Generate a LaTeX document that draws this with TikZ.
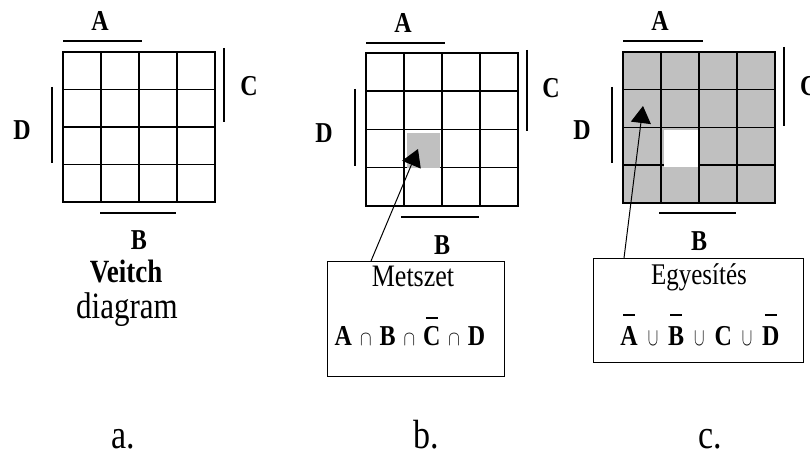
\documentclass[tikz,border=0pt]{standalone}
\usepackage{fontspec}
\setmainfont{Liberation Serif}
\usepackage{graphicx}
\usetikzlibrary{arrows.meta}
\definecolor{cellgray}{HTML}{C0C0C0}
\newcommand\T[1]{\scalebox{1}[1.2]{#1}}
\newcommand\ovb[2]{\ooalign{\hfil\raisebox{#1}{\rule{12pt}{1pt}}\hfil\cr\textbf{#2}}}
\newcommand\capsym{{\fontsize{16}{16}\selectfont$\cap$}}
\newcommand\cupsym{\scalebox{0.75}[1]{\fontsize{20}{20}\selectfont$\cup$}}
\newcommand\kgrid[4]{% x0, y0, w, h
  \draw[gridline] (#1,#2) rectangle ++(#3,#4);
  \foreach \i in {1,2,3}{
    \draw[gridline] ({#1+#3*\i/4},#2) -- ++(0,#4);
    \draw[gridline] (#1,{#2+#4*\i/4}) -- ++(#3,0);
  }}
\tikzset{
  gridline/.style={line width=1.5pt},
  varbar/.style={line width=1.4pt},
  varlab/.style={font=\bfseries\fontsize{24}{24}\selectfont, inner sep=0pt},
  capbox/.style={draw, line width=1.1pt, inner sep=0pt, anchor=north west},
  ptr/.style={line width=1pt, -{Triangle[length=17pt,width=20pt]}},
  bigtxt/.style={font=\fontsize{34}{34}\selectfont, inner sep=0pt, anchor=base},
  boxtxt/.style={font=\fontsize{26}{26}\selectfont, inner sep=0pt, anchor=base},
  formula/.style={inner sep=0pt, anchor=base, font=\bfseries\fontsize{24}{24}\selectfont},
}
\begin{document}
\begin{tikzpicture}[x=1pt,y=-1pt]
\useasboundingbox (0,0) rectangle (810,462);
% ---------- a ----------
\kgrid{63}{52}{152}{150}
\draw[varbar] (63,41) -- (142,41);
\draw[varbar] (224,48) -- (224,122);
\draw[varbar] (52,87) -- (52,163);
\draw[varbar] (100,213) -- (176,213);
\node[varlab] (Aa) at (100,21) {\T{A}};
\node[varlab] (Ca) at (249,86) {\T{C}};
\node[varlab] (Da) at (22,130) {\T{D}};
\node[varlab] (Ba) at (139,240) {\T{B}};
\node[inner sep=0pt, anchor=base, font=\bfseries\fontsize{27}{27}\selectfont] (veitch) at (126,282) {\T{Veitch}};
\node[inner sep=0pt, anchor=base, font=\fontsize{31}{31}\selectfont] (diag) at (127,318) {\T{diagram}};
% ---------- b ----------
\kgrid{366}{53}{152}{153}
\fill[cellgray] (407,133) rectangle (440,168);
\draw[varbar] (366,43) -- (445,43);
\draw[varbar] (527,50) -- (527,131);
\draw[varbar] (355,89) -- (355,166);
\draw[varbar] (401,217) -- (479,217);
\node[varlab] (Ab) at (403,23) {\T{A}};
\node[varlab] (Cb) at (551,88) {\T{C}};
\node[varlab] (Db) at (324,133) {\T{D}};
\node[varlab] (Bb) at (442,245) {\T{B}};
\node[capbox, minimum width=177pt, minimum height=115pt] (boxb) at (327,261) {};
\node[boxtxt] (metszet) at (413,286) {\T{Metszet}};
\node[formula] (fb) at (410,345) {\T{A\hspace{8pt}\capsym\hspace{8pt}B\hspace{8pt}\capsym\hspace{8pt}\ovb{22pt}{C}\hspace{8pt}\capsym\hspace{8pt}D}};
\coordinate (tailb) at (371,261);
\coordinate (tipb) at (418,149);
\draw[ptr] (tailb) -- (tipb);
% ---------- c ----------
\fill[cellgray] (623,52) rectangle (775,203);
\kgrid{623}{52}{152}{151}
\fill[white] (664,130) rectangle (698,167);
\draw[varbar] (623,41) -- (703,41);
\draw[varbar] (784,47) -- (784,126);
\draw[varbar] (612,87) -- (612,163);
\draw[varbar] (659,213) -- (736,213);
\node[varlab] (Ac) at (660,21) {\T{A}};
\node[varlab, anchor=west] (Cc) at (800,86) {\T{C}};
\node[varlab] (Dc) at (582,130) {\T{D}};
\node[varlab] (Bc) at (699,241) {\T{B}};
\node[capbox, minimum width=210pt, minimum height=104pt] (boxc) at (593,258) {};
\node[boxtxt, font=\fontsize{25}{25}\selectfont] (egy) at (699,284) {\T{Egyesítés}};
\node[formula] (fc) at (700,345) {\T{\ovb{24.5pt}{A}\hspace{10pt}\cupsym\hspace{10pt}\ovb{24.5pt}{B}\hspace{10pt}\cupsym\hspace{10pt}C\hspace{10pt}\cupsym\hspace{10pt}\ovb{24.5pt}{D}}};
\coordinate (tailc) at (624,258);
\coordinate (tipc) at (643,106);
\draw[ptr] (tailc) -- (tipc);
% ---------- captions ----------
\node[bigtxt] (la) at (123,448) {\T{a.}};
\node[bigtxt] (lb) at (426,448) {\T{b.}};
\node[bigtxt] (lc) at (710,448) {\T{c.}};
\end{tikzpicture}
\end{document}
